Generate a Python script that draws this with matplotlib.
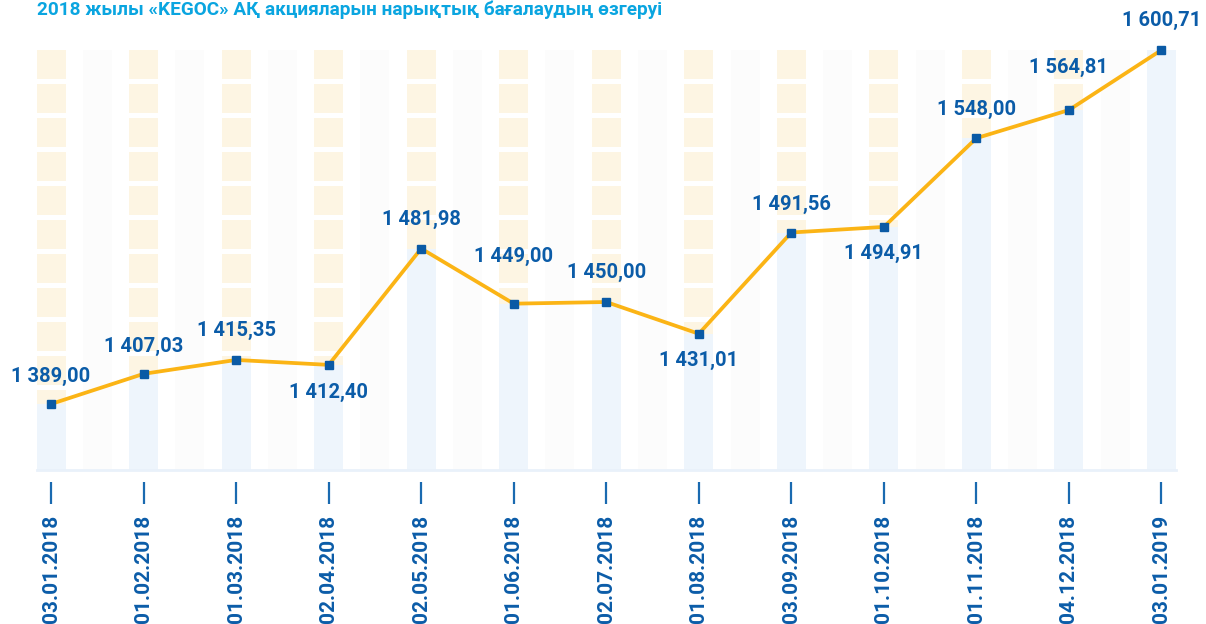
import numpy as np
import matplotlib.pyplot as plt

########### data
dates = ["03.01.2018", "01.02.2018", "01.03.2018", "02.04.2018", "02.05.2018",
         "01.06.2018", "02.07.2018", "01.08.2018", "03.09.2018", "01.10.2018",
         "01.11.2018", "04.12.2018", "03.01.2019"]
prices = [1389.00, 1407.03, 1415.35, 1412.40, 1481.98, 1449.00, 1450.00,
          1431.01, 1491.56, 1494.91, 1548.00, 1564.81, 1600.71]
title = "2018 жылы «KEGOC» АҚ акцияларын нарықтық бағалаудың өзгеруі"

# label offsets in points (negative = below the point)
label_dy = [20, 20, 21, -20, 21, 34, 21, -19, 20, -19, 21, 31, 21]

blue = "#0b5ca8"
cream = "#fdf5e3"
lightblue = "#eef5fc"
grey = "#fcfcfc"

W, H = 1206, 624
fig = plt.figure(figsize=(W/100, H/100), dpi=100)
ax_left, ax_right, ax_top, ax_bot = 36.5, 1176.0, 50.0, 470.0
ax = fig.add_axes([ax_left/W, 1 - ax_bot/H, (ax_right-ax_left)/W, (ax_bot-ax_top)/H])

x = np.arange(len(dates))
top = max(prices)
px_per_unit = (404.0 - 50.0) / (top - prices[0])
bottom = prices[0] - (ax_bot - 404.0) / px_per_unit
ax.set_xlim(-0.157, len(dates) - 1 + 0.157)
ax.set_ylim(bottom, top)

bw = 0.313
# grey columns between dates
ax.bar(x[:-1] + 0.5, top - bottom, bottom=bottom, width=bw, color=grey, zorder=0)
# light blue under the value
ax.bar(x, np.array(prices) - bottom, bottom=bottom, width=bw, color=lightblue, zorder=1)
# cream blocks above the value
period = 34.0 / px_per_unit
seg = 29.0 / px_per_unit
for xi, v in zip(x, prices):
    k = 0
    while True:
        s_top = top - k * period
        if s_top <= v:
            break
        s_bot = max(s_top - seg, v)
        ax.bar(xi, s_top - s_bot, bottom=s_bot, width=bw, color=cream, zorder=1)
        k += 1

ax.axhline(bottom, color="#e9f1fa", lw=2, zorder=2, clip_on=False)

ax.plot(x, prices, color="#fbb415", lw=2.7, zorder=3, clip_on=False)
ax.plot(x, prices, "s", color="#0a5aa5", ms=6.3, zorder=4, clip_on=False)

for xi, v, dy in zip(x, prices, label_dy):
    lbl = f"{v:,.2f}".replace(",", " ").replace(".", ",")
    ax.annotate(lbl, (xi, v), xytext=(0, dy), textcoords="offset points",
                ha="center", va="center", fontsize=14.5, fontweight="bold",
                family="Roboto", color=blue, annotation_clip=False, zorder=5)

# tick marks
ax.vlines(x, -12/420, -34/420, transform=ax.get_xaxis_transform(),
          color="#1a6ab0", lw=1.6, clip_on=False)

ax.set_xticks(x)
ax.set_xticklabels(dates, rotation=90, fontsize=15, fontweight="bold",
                   family="Roboto", color=blue)
ax.tick_params(axis="x", length=0, pad=32)
ax.set_yticks([])
for s in ax.spines.values():
    s.set_visible(False)

fig.text(37/W, 1 - 15/H, title, ha="left", va="baseline", fontsize=13.7,
         fontweight="bold", family="Roboto", color="#0aa5e0")

fig.savefig("out.png", dpi=100)
